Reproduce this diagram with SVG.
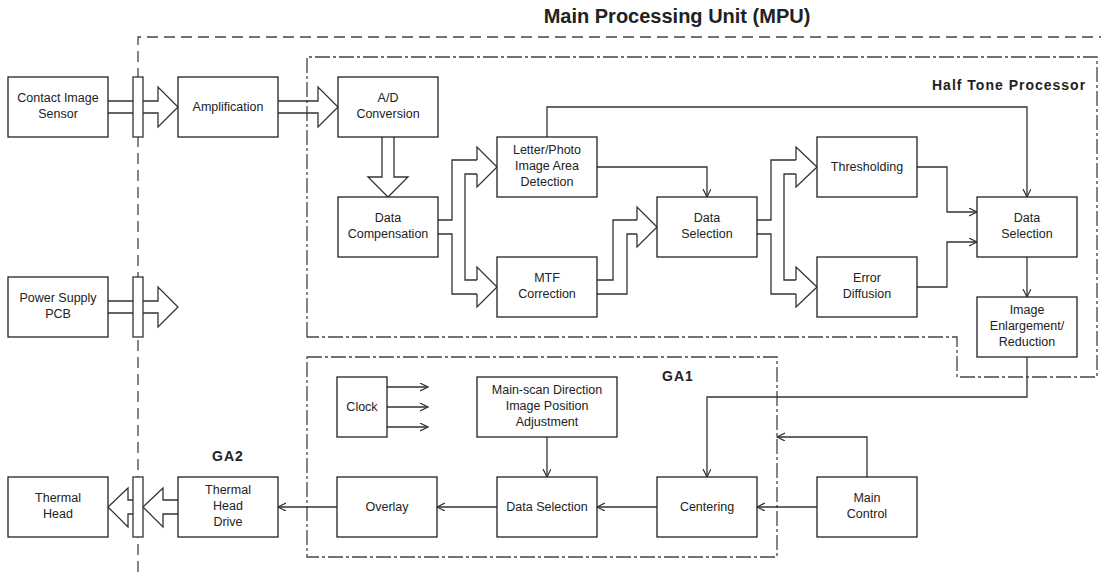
<svg xmlns="http://www.w3.org/2000/svg" width="1109" height="577" viewBox="0 0 1109 577">
<defs>
<marker id="ah" markerWidth="10" markerHeight="10" refX="8" refY="4" orient="auto" markerUnits="userSpaceOnUse">
<path d="M0,0 L8,4 L0,8" fill="none" stroke="#333" stroke-width="1.2"/>
</marker>
<style>
.box{fill:#fff;stroke:#222;stroke-width:1.3}
.bar{fill:#fff;stroke:#333;stroke-width:1.3}
.ln{fill:none;stroke:#333;stroke-width:1.3}
.arr{fill:none;stroke:#333;stroke-width:1.3;marker-end:url(#ah)}
.dash{fill:none;stroke:#444;stroke-width:1.3;stroke-dasharray:11 6}
.dashdot{fill:none;stroke:#444;stroke-width:1.3;stroke-dasharray:15 3 3 3}
text{font-family:"Liberation Sans",Arial,sans-serif;font-size:12.5px;fill:#222;text-anchor:middle}
.lbl{font-weight:bold;font-size:14px;letter-spacing:1px;text-anchor:start}
.title{font-weight:bold;font-size:20px}
</style>
</defs>
<rect width="1109" height="577" fill="#fff"/>

<g id="frames">
<path class="dash" d="M138,572 L138,37 L1101,37"/>
<path class="dashdot" d="M307,337 L307,57 L1097,57 L1097,377 L957,377 L957,337 Z"/>
<rect class="dashdot" x="307" y="357" width="470" height="200"/>
<text class="title" x="677" y="23">Main Processing Unit (MPU)</text>
<text class="lbl" x="932" y="90">Half Tone Processor</text>
<text class="lbl" x="662" y="381">GA1</text>
<text class="lbl" x="212" y="461">GA2</text>
</g>

<g id="connectors">
<!-- block arrows -->
<path class="ln" d="M108,101 L158,101 L158,87 L178,107 L158,127 L158,113 L108,113"/>
<path class="ln" d="M278,101 L318,101 L318,87 L338,107 L318,127 L318,113 L278,113"/>
<path class="ln" d="M108,301 L158,301 L158,287 L178,307 L158,327 L158,313 L108,313"/>
<path class="ln" d="M382,137 L382,177 L368,177 L388,197 L408,177 L394,177 L394,137"/>
<!-- data comp fork -->
<path class="ln" d="M438,220 L452,220 L452,160 L477,160"/>
<path class="ln" d="M438,234 L452,234 L452,294 L477,294"/>
<path class="ln" d="M477,174 L465,174 L465,280 L477,280"/>
<path class="ln" d="M477,160 L477,147 L497,167 L477,187 L477,174"/>
<path class="ln" d="M477,280 L477,267 L497,287 L477,307 L477,294"/>
<!-- MTF to DS1 -->
<path class="ln" d="M597,280 L613,280 L613,220 L637,220"/>
<path class="ln" d="M597,294 L627,294 L627,234 L637,234"/>
<path class="ln" d="M637,220 L637,207 L657,227 L637,247 L637,234"/>
<!-- DS1 fork -->
<path class="ln" d="M757,220 L771,220 L771,160 L796,160"/>
<path class="ln" d="M757,234 L771,234 L771,294 L796,294"/>
<path class="ln" d="M796,174 L784,174 L784,280 L796,280"/>
<path class="ln" d="M796,160 L796,147 L817,167 L796,187 L796,174"/>
<path class="ln" d="M796,280 L796,267 L817,287 L796,307 L796,294"/>
<!-- thin arrows -->
<path class="arr" d="M597,167 L707,167 L707,197"/>
<path class="arr" d="M547,137 L547,107 L1027,107 L1027,197"/>
<path class="arr" d="M917,167 L947,167 L947,212 L977,212"/>
<path class="arr" d="M917,287 L947,287 L947,242 L977,242"/>
<path class="arr" d="M1027,257 L1027,297"/>
<path class="arr" d="M1027,357 L1027,397 L707,397 L707,477"/>
<path class="arr" d="M867,477 L867,437 L777,437"/>
<path class="arr" d="M817,507 L757,507"/>
<path class="arr" d="M657,507 L597,507"/>
<path class="arr" d="M547,437 L547,477"/>
<path class="arr" d="M497,507 L437,507"/>
<path class="arr" d="M337,507 L278,507"/>
<path class="arr" d="M387,387 L428,387"/>
<path class="arr" d="M387,407 L428,407"/>
<path class="arr" d="M387,427 L428,427"/>
<!-- output block arrows -->
<path class="ln" d="M178,500 L163,500 L163,488 L143,507 L163,527 L163,514 L178,514"/>
<path class="ln" d="M133,500 L128,500 L128,488 L108,507 L128,527 L128,514 L133,514"/>
<!-- connector bars -->
<rect class="bar" x="133" y="77" width="10" height="60"/>
<rect class="bar" x="133" y="277" width="10" height="60"/>
<rect class="bar" x="133" y="477" width="10" height="60"/>
</g>

<g id="cis"><rect class="box" x="8" y="77" width="100" height="60"/><text x="58" y="102">Contact Image</text><text x="58" y="118">Sensor</text></g>
<g id="amp"><rect class="box" x="178" y="77" width="100" height="60"/><text x="228" y="111">Amplification</text></g>
<g id="ad"><rect class="box" x="338" y="77" width="100" height="60"/><text x="388" y="102">A/D</text><text x="388" y="118">Conversion</text></g>
<g id="dc"><rect class="box" x="338" y="197" width="100" height="60"/><text x="388" y="222">Data</text><text x="388" y="238">Compensation</text></g>
<g id="lp"><rect class="box" x="497" y="137" width="100" height="60"/><text x="547" y="154">Letter/Photo</text><text x="547" y="170">Image Area</text><text x="547" y="186">Detection</text></g>
<g id="mtf"><rect class="box" x="497" y="257" width="100" height="60"/><text x="547" y="282">MTF</text><text x="547" y="298">Correction</text></g>
<g id="ds1"><rect class="box" x="657" y="197" width="100" height="60"/><text x="707" y="222">Data</text><text x="707" y="238">Selection</text></g>
<g id="thr"><rect class="box" x="817" y="137" width="100" height="60"/><text x="867" y="171">Thresholding</text></g>
<g id="ed"><rect class="box" x="817" y="257" width="100" height="60"/><text x="867" y="282">Error</text><text x="867" y="298">Diffusion</text></g>
<g id="ds2"><rect class="box" x="977" y="197" width="100" height="60"/><text x="1027" y="222">Data</text><text x="1027" y="238">Selection</text></g>
<g id="ie"><rect class="box" x="977" y="297" width="100" height="60"/><text x="1027" y="314">Image</text><text x="1027" y="330">Enlargement/</text><text x="1027" y="346">Reduction</text></g>
<g id="psu"><rect class="box" x="8" y="277" width="100" height="60"/><text x="58" y="302">Power Supply</text><text x="58" y="318">PCB</text></g>
<g id="clock"><rect class="box" x="337" y="377" width="50" height="60"/><text x="362" y="411">Clock</text></g>
<g id="msd"><rect class="box" x="477" y="377" width="140" height="60"/><text x="547" y="394">Main-scan Direction</text><text x="547" y="410">Image Position</text><text x="547" y="426">Adjustment</text></g>
<g id="ds3"><rect class="box" x="497" y="477" width="100" height="60"/><text x="547" y="511">Data Selection</text></g>
<g id="cen"><rect class="box" x="657" y="477" width="100" height="60"/><text x="707" y="511">Centering</text></g>
<g id="mc"><rect class="box" x="817" y="477" width="100" height="60"/><text x="867" y="502">Main</text><text x="867" y="518">Control</text></g>
<g id="ovl"><rect class="box" x="337" y="477" width="100" height="60"/><text x="387" y="511">Overlay</text></g>
<g id="thd"><rect class="box" x="178" y="477" width="100" height="60"/><text x="228" y="494">Thermal</text><text x="228" y="510">Head</text><text x="228" y="526">Drive</text></g>
<g id="th"><rect class="box" x="8" y="477" width="100" height="60"/><text x="58" y="502">Thermal</text><text x="58" y="518">Head</text></g>
</svg>
